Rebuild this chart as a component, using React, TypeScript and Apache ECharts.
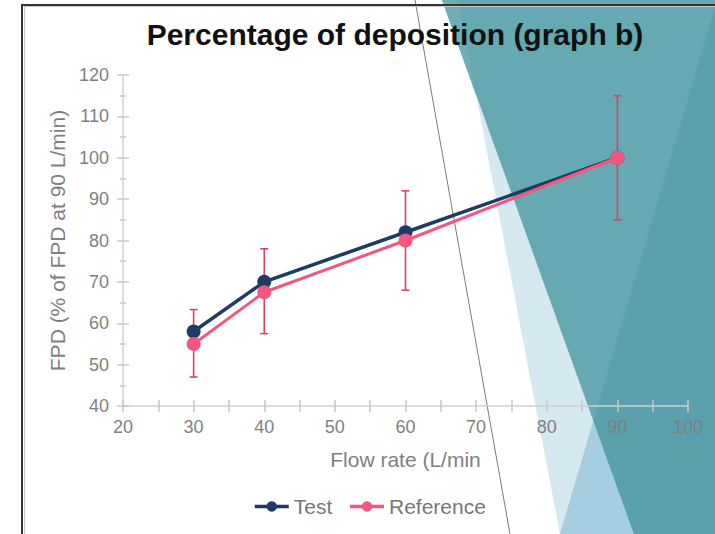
import React, { useEffect, useRef } from "react";
import * as echarts from "echarts";

// ---- data ----
const flowRates = [30, 40, 60, 90];
const testValues = [58, 70, 82, 100];
const referenceValues = [55, 67.5, 80, 100];
const refErrLow = [47, 57.5, 68, 85];
const refErrHigh = [63.3, 78, 92, 115];
const seriesNames = ["Test", "Reference"];
const titleText = "Percentage of deposition (graph b)";
const xAxisName = "Flow rate (L/min";
const yAxisName = "FPD (% of FPD at 90 L/min)";

const FONT = '"Liberation Sans", Arial, Helvetica, sans-serif';
const NAVY = "#1f3a63";
const PINK = "#f4567f";
const ERR = "#d9475f";
const GRAYTXT = "#7f7f7f";
const AXIS = "#cfcfcf";

export default function App() {
  const ref = useRef<HTMLDivElement>(null);

  useEffect(() => {
    if (!ref.current) return;
    const chart = echarts.init(ref.current, undefined, { renderer: "svg" });

    const testData = flowRates.map((x, i) => [x, testValues[i]]);
    const refData = flowRates.map((x, i) => [x, referenceValues[i]]);
    const errData = flowRates.map((x, i) => [x, refErrLow[i], refErrHigh[i]]);

    const tickStyle = { color: "#c8c8c8", width: 1.5 };

    const option: any = {
      animation: false,
      backgroundColor: "#ffffff",
      graphic: {
        elements: [
          // decorative background shapes
          {
            type: "polygon",
            z: -10,
            shape: { points: [[458, 0], [715, 0], [715, 534], [560, 534]] },
            style: { fill: "#d6e9f1" },
            silent: true,
          },
          {
            type: "polygon",
            z: -10,
            shape: { points: [[715, 6], [715, 534], [560, 534]] },
            style: { fill: "#a6cde0" },
            silent: true,
          },
          {
            type: "polygon",
            z: -10,
            shape: { points: [[442, 0], [715, 0], [715, 534], [634, 534]] },
            style: { fill: "#67a9b2" },
            silent: true,
          },
          {
            type: "polygon",
            z: -10,
            shape: { points: [[442, 0], [458, 0], [476, 95]] },
            style: { fill: "#70aeb7" },
            silent: true,
          },
          {
            type: "polygon",
            z: -10,
            shape: { points: [[715, 6.8], [715, 534], [634, 534], [593.4, 420.5]] },
            style: { fill: "#5ba1ac" },
            silent: true,
          },
          {
            type: "line",
            z: -5,
            shape: { x1: 415, y1: 0, x2: 510, y2: 534 },
            style: { stroke: "#7a7a7a", lineWidth: 1 },
            silent: true,
          },
          // frame
          {
            type: "line",
            z: 50,
            shape: { x1: 24, y1: 6.5, x2: 715, y2: 6.5 },
            style: { stroke: "#c8c8c8", lineWidth: 1 },
            silent: true,
          },
          {
            type: "line",
            z: 50,
            shape: { x1: 24.5, y1: 6, x2: 24.5, y2: 534 },
            style: { stroke: "#c8c8c8", lineWidth: 1 },
            silent: true,
          },
          {
            type: "line",
            z: 51,
            shape: { x1: 21, y1: 5, x2: 715, y2: 5 },
            style: { stroke: "#333333", lineWidth: 2 },
            silent: true,
          },
          {
            type: "line",
            z: 51,
            shape: { x1: 22, y1: 4, x2: 22, y2: 534 },
            style: { stroke: "#333333", lineWidth: 2 },
            silent: true,
          },
          // title
          {
            type: "text",
            z: 60,
            x: 395,
            y: 34,
            style: {
              text: titleText,
              fontFamily: FONT,
              fontWeight: "bold",
              fontSize: 30,
              fill: "#111111",
              align: "center",
              verticalAlign: "middle",
            },
          },
        ],
      },
      legend: {
        data: seriesNames,
        left: 253,
        top: 496,
        padding: 0,
        itemWidth: 34,
        itemHeight: 13,
        itemGap: 16,
        lineStyle: { width: 3.5 },
        textStyle: { fontFamily: FONT, fontSize: 21, color: "#777777" },
      },
      grid: { left: 123, right: 27, top: 75, bottom: 128, containLabel: false },
      xAxis: [
        {
          type: "value",
          position: "bottom",
          min: 20,
          max: 100,
          interval: 10,
          name: xAxisName,
          nameLocation: "middle",
          nameGap: 43,
          nameTextStyle: { fontFamily: FONT, fontSize: 21, color: GRAYTXT },
          axisLine: { show: true, lineStyle: { color: AXIS, width: 1.5 } },
          axisTick: { show: true, inside: false, length: 6, lineStyle: tickStyle },
          minorTick: { show: true, splitNumber: 2, length: 6, lineStyle: tickStyle },
          axisLabel: { fontFamily: FONT, fontSize: 18, color: GRAYTXT, margin: 12 },
          splitLine: { show: false },
          minorSplitLine: { show: false },
        },
        {
          type: "value",
          position: "bottom",
          min: 20,
          max: 100,
          interval: 10,
          axisLine: { show: false },
          axisTick: { show: true, inside: true, length: 6, lineStyle: tickStyle },
          minorTick: { show: true, splitNumber: 2, length: 6, lineStyle: tickStyle },
          axisLabel: { show: false },
          splitLine: { show: false },
        },
      ],
      yAxis: [
        {
          type: "value",
          position: "left",
          min: 40,
          max: 120,
          interval: 10,
          name: yAxisName,
          nameLocation: "middle",
          nameGap: 54,
          nameTextStyle: { fontFamily: FONT, fontSize: 21, color: GRAYTXT },
          axisLine: { show: true, lineStyle: { color: "#dedede", width: 2 } },
          axisTick: { show: true, inside: false, length: 6, lineStyle: tickStyle },
          minorTick: { show: true, splitNumber: 2, length: 3, lineStyle: tickStyle },
          axisLabel: { fontFamily: FONT, fontSize: 18, color: GRAYTXT, margin: 14 },
          splitLine: { show: false },
          minorSplitLine: { show: false },
        },
        {
          type: "value",
          position: "left",
          min: 40,
          max: 120,
          interval: 10,
          axisLine: { show: false },
          axisTick: { show: true, inside: true, length: 6, lineStyle: tickStyle },
          minorTick: { show: true, splitNumber: 2, length: 3, lineStyle: tickStyle },
          axisLabel: { show: false },
          splitLine: { show: false },
        },
      ],
      series: [
        {
          type: "custom",
          name: "err",
          z: 1,
          xAxisIndex: 0,
          yAxisIndex: 0,
          data: errData,
          encode: { x: 0, y: [1, 2] },
          renderItem: (params: any, api: any) => {
            const x = api.value(0);
            const pLo = api.coord([x, api.value(1)]);
            const pHi = api.coord([x, api.value(2)]);
            const w = 4;
            const style = { stroke: ERR, lineWidth: 1.6 };
            return {
              type: "group",
              children: [
                { type: "line", shape: { x1: pLo[0], y1: pLo[1], x2: pHi[0], y2: pHi[1] }, style },
                { type: "line", shape: { x1: pLo[0] - w, y1: pLo[1], x2: pLo[0] + w, y2: pLo[1] }, style },
                { type: "line", shape: { x1: pHi[0] - w, y1: pHi[1], x2: pHi[0] + w, y2: pHi[1] }, style },
              ],
            };
          },
        },
        {
          type: "line",
          name: seriesNames[0],
          z: 3,
          data: testData,
          symbol: "circle",
          symbolSize: 14,
          color: NAVY,
          lineStyle: { color: NAVY, width: 3.5 },
          itemStyle: { color: NAVY },
        },
        {
          type: "line",
          name: seriesNames[1],
          z: 4,
          data: refData,
          symbol: "circle",
          symbolSize: 14,
          color: PINK,
          lineStyle: { color: PINK, width: 3 },
          itemStyle: { color: PINK },
        },
      ],
    };

    chart.setOption(option);
    return () => chart.dispose();
  }, []);

  return (
    <div
      ref={ref}
      style={{ position: "absolute", left: 0, top: 0, width: 715, height: 534 }}
    />
  );
}
